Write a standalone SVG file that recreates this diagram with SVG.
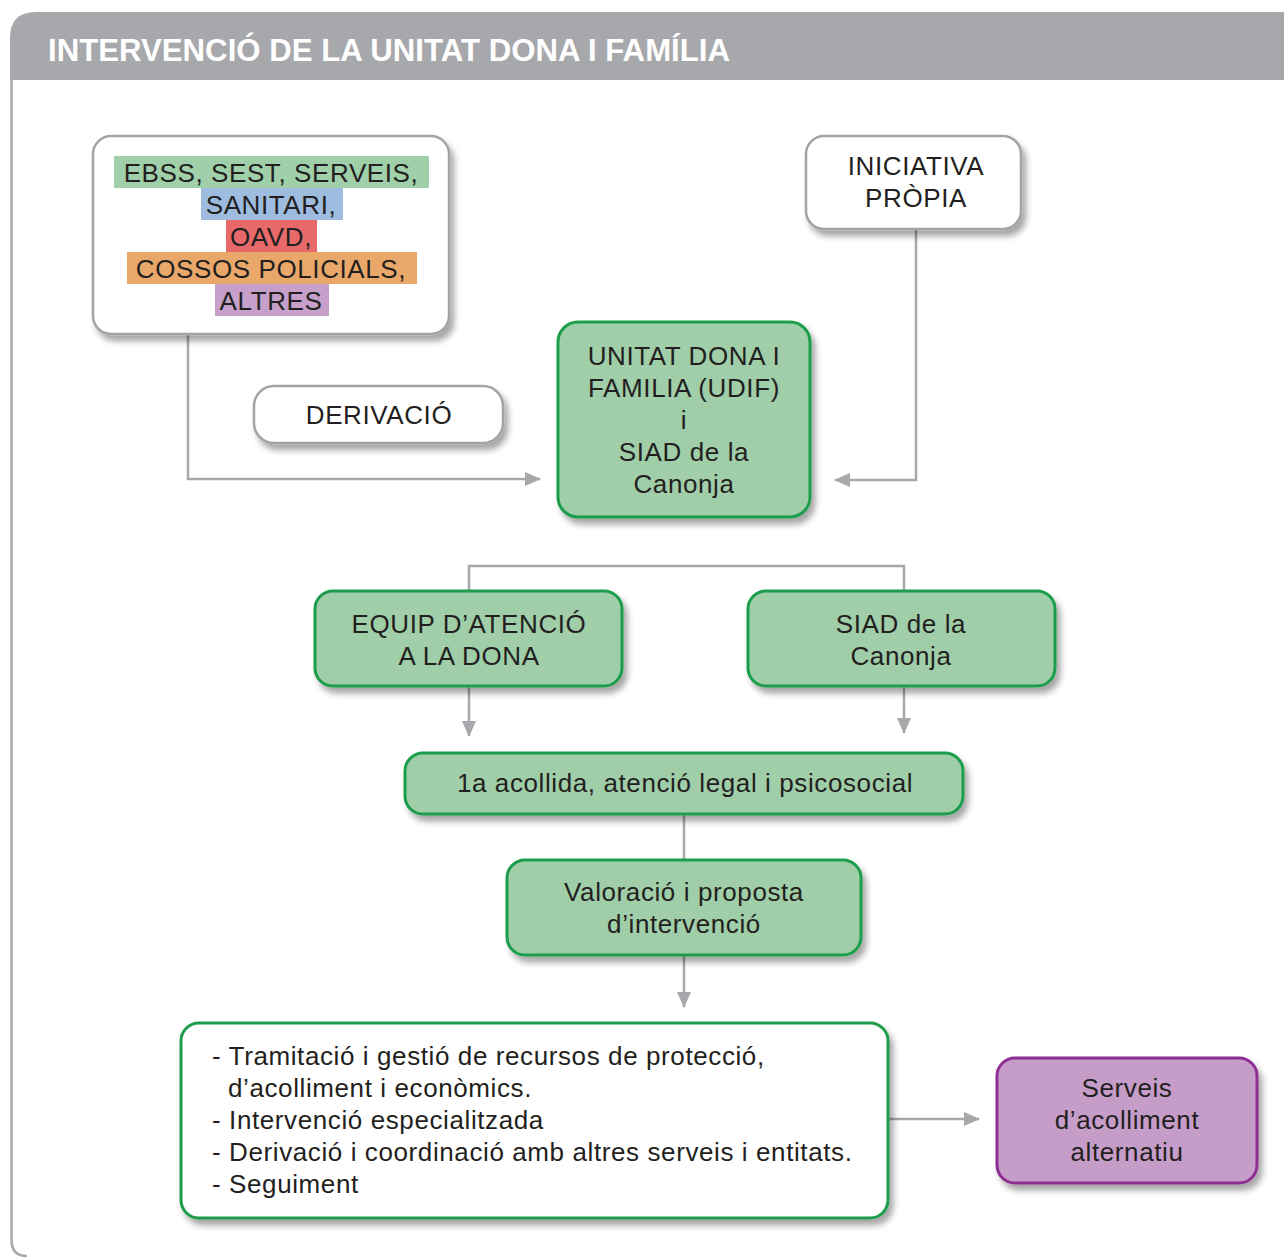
<svg xmlns="http://www.w3.org/2000/svg" width="1284" height="1258" viewBox="0 0 1284 1258">
<defs>
<style>
.t{font-family:"Liberation Sans",Arial,sans-serif;font-size:26px;letter-spacing:0.6px;fill:#231f20;text-anchor:middle}
.l{font-family:"Liberation Sans",Arial,sans-serif;font-size:26px;letter-spacing:0.6px;fill:#231f20}
.wbox{fill:#ffffff;stroke:#a2a3a6;stroke-width:2.5}
.gbox{fill:#9fcea9;stroke:#1f9d4b;stroke-width:3}
.gwbox{fill:#ffffff;stroke:#1f9d4b;stroke-width:3}
.pbox{fill:#c69dc9;stroke:#8e2f92;stroke-width:3}
.c{fill:none;stroke:#a7a8ab;stroke-width:2.5}
</style>
<filter id="sh" x="-10%" y="-10%" width="130%" height="140%">
<feDropShadow dx="4" dy="6" stdDeviation="3" flood-color="#000" flood-opacity="0.35"/>
</filter>
<marker id="ah" markerWidth="16" markerHeight="14" refX="15" refY="7" orient="auto" markerUnits="userSpaceOnUse">
<path d="M0,0 L16,7 L0,14 Z" fill="#a7a8ab"/>
</marker>
</defs>
<rect width="1284" height="1258" fill="#ffffff"/>
<g id="frame">
<path d="M11.5,80 L11.5,1240 Q11.5,1256 27,1256" fill="none" stroke="#a7a8ab" stroke-width="2.5"/>
<path d="M10,80 L10,38 Q10,12 36,12 L1284,12 L1284,80 Z" fill="#a7a8ab"/>
<text x="48" y="61" font-family="'Liberation Sans',Arial,sans-serif" font-weight="bold" font-size="32" fill="#ffffff" textLength="682" lengthAdjust="spacingAndGlyphs">INTERVENCIÓ DE LA UNITAT DONA I FAMÍLIA</text>
</g>
<g id="connectors">
<path class="c" d="M188,334 L188,479 L540,479" marker-end="url(#ah)"/>
<path class="c" d="M916,229 L916,480 L835,480" marker-end="url(#ah)"/>
<path class="c" d="M469,591 L469,566 L904,566 L904,591"/>
<path class="c" d="M469,686 L469,736" marker-end="url(#ah)"/>
<path class="c" d="M904,686 L904,733" marker-end="url(#ah)"/>
<path class="c" d="M684,814 L684,860"/>
<path class="c" d="M684,955 L684,1007" marker-end="url(#ah)"/>
<path class="c" d="M888,1119 L979,1119" marker-end="url(#ah)"/>
</g>
<g id="n-origen">
<rect class="wbox" x="93" y="136" width="356" height="198" rx="18" filter="url(#sh)"/>
<rect x="114" y="156" width="315" height="32" fill="#9fd0a9"/>
<rect x="201" y="188" width="142" height="32" fill="#9dbce0"/>
<rect x="226" y="220" width="91" height="32" fill="#e8696a"/>
<rect x="127" y="252" width="290" height="32" fill="#e9a86a"/>
<rect x="215" y="284" width="114" height="32" fill="#c6a0cb"/>
<text class="t" x="271" y="182">EBSS, SEST, SERVEIS,</text>
<text class="t" x="271" y="214">SANITARI,</text>
<text class="t" x="271" y="246">OAVD,</text>
<text class="t" x="271" y="278">COSSOS POLICIALS,</text>
<text class="t" x="271" y="310">ALTRES</text>
</g>
<g id="n-iniciativa">
<rect class="wbox" x="806" y="136" width="215" height="93" rx="18" filter="url(#sh)"/>
<text class="t" x="916" y="175">INICIATIVA</text>
<text class="t" x="916" y="207">PRÒPIA</text>
</g>
<g id="n-derivacio">
<rect class="wbox" x="254" y="386" width="249" height="57" rx="20" filter="url(#sh)"/>
<text class="t" x="379" y="424">DERIVACIÓ</text>
</g>
<g id="n-udif">
<rect class="gbox" x="558" y="322" width="252" height="195" rx="20" filter="url(#sh)"/>
<text class="t" x="684" y="365">UNITAT DONA I</text>
<text class="t" x="684" y="397">FAMILIA (UDIF)</text>
<text class="t" x="684" y="429">i</text>
<text class="t" x="684" y="461">SIAD de la</text>
<text class="t" x="684" y="493">Canonja</text>
</g>
<g id="n-equip">
<rect class="gbox" x="315" y="591" width="307" height="95" rx="18" filter="url(#sh)"/>
<text class="t" x="469" y="633">EQUIP D’ATENCIÓ</text>
<text class="t" x="469" y="665">A LA DONA</text>
</g>
<g id="n-siad">
<rect class="gbox" x="748" y="591" width="307" height="95" rx="18" filter="url(#sh)"/>
<text class="t" x="901" y="633">SIAD de la</text>
<text class="t" x="901" y="665">Canonja</text>
</g>
<g id="n-acollida">
<rect class="gbox" x="405" y="753" width="558" height="61" rx="18" filter="url(#sh)"/>
<text class="t" x="685" y="792">1a acollida, atenció legal i psicosocial</text>
</g>
<g id="n-valoracio">
<rect class="gbox" x="507" y="860" width="354" height="95" rx="18" filter="url(#sh)"/>
<text class="t" x="684" y="901">Valoració i proposta</text>
<text class="t" x="684" y="933">d’intervenció</text>
</g>
<g id="n-accions">
<rect class="gwbox" x="181" y="1023" width="707" height="195" rx="18" filter="url(#sh)"/>
<text class="l" x="212" y="1065">- Tramitació i gestió de recursos de protecció,</text>
<text class="l" x="228" y="1097">d’acolliment i econòmics.</text>
<text class="l" x="212" y="1129">- Intervenció especialitzada</text>
<text class="l" x="212" y="1161">- Derivació i coordinació amb altres serveis i entitats.</text>
<text class="l" x="212" y="1193">- Seguiment</text>
</g>
<g id="n-serveis">
<rect class="pbox" x="997" y="1058" width="260" height="125" rx="18" filter="url(#sh)"/>
<text class="t" x="1127" y="1097">Serveis</text>
<text class="t" x="1127" y="1129">d’acolliment</text>
<text class="t" x="1127" y="1161">alternatiu</text>
</g>
</svg>
